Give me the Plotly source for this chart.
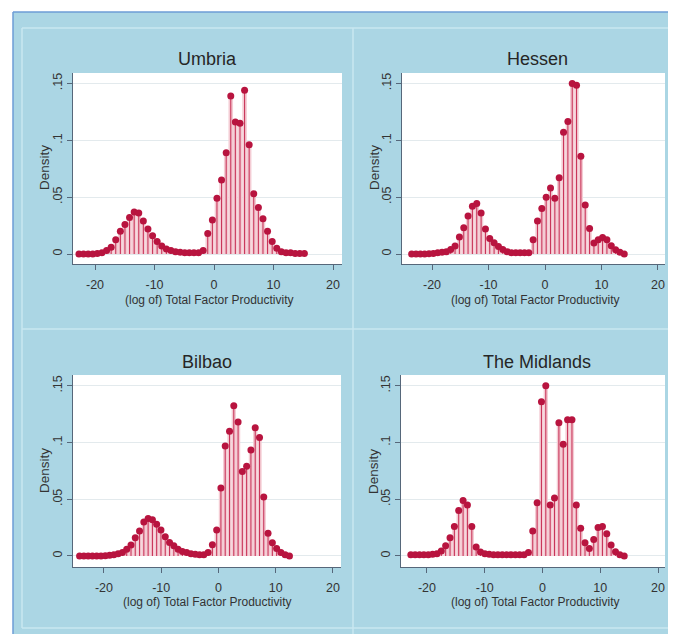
import plotly.graph_objects as go

# the page body has an 8px margin on every side: keep the figure inside the window
OFF = 8
W, H = 676 - 2 * OFF, 642 - 2 * OFF

# ---------------- data ----------------
panel_titles = ["Umbria", "Hessen", "Bilbao", "The Midlands"]
x_title = "(log of) Total Factor Productivity"
y_title = "Density"
x_tickvals = [-20, -10, 0, 10, 20]
x_ticktext = ["-20", "-10", "0", "10", "20"]
y_tickvals = [0, 0.05, 0.1, 0.15]
y_ticktext = ["0", ".05", ".1", ".15"]

umbria_x = [-22.70, -21.93, -21.15, -20.38, -19.61, -18.84, -18.06, -17.29, -16.52, -15.74,
            -14.97, -14.20, -13.42, -12.65, -11.88, -11.11, -10.33, -9.56, -8.79, -8.01,
            -7.24, -6.47, -5.69, -4.92, -4.15, -3.38, -2.60, -1.83, -1.06, -0.28,
            0.49, 1.26, 2.04, 2.81, 3.58, 4.36, 5.13, 5.90, 6.67, 7.45,
            8.22, 8.99, 9.77, 10.54, 11.31, 12.09, 12.86, 13.63, 14.40, 15.18]
umbria_y = [0.0, 0.0, 0.0, 0.0, 0.0005, 0.001, 0.003, 0.006, 0.0125, 0.020,
            0.026, 0.032, 0.037, 0.036, 0.029, 0.022, 0.016, 0.011, 0.007, 0.0045,
            0.003, 0.002, 0.0015, 0.001, 0.001, 0.001, 0.001, 0.003, 0.018, 0.030,
            0.049, 0.065, 0.089, 0.139, 0.116, 0.115, 0.144, 0.096, 0.053, 0.041,
            0.031, 0.020, 0.011, 0.005, 0.002, 0.001, 0.001, 0.0005, 0.0005, 0.0005]

hessen_x = [-23.60, -22.83, -22.06, -21.30, -20.53, -19.76, -18.99, -18.22, -17.46, -16.69,
            -15.92, -15.15, -14.38, -13.62, -12.85, -12.08, -11.31, -10.54, -9.78, -9.01,
            -8.24, -7.47, -6.70, -5.94, -5.17, -4.40, -3.63, -2.86, -2.10, -1.33,
            -0.56, 0.21, 0.98, 1.74, 2.51, 3.28, 4.05, 4.82, 5.58, 6.35,
            7.12, 7.89, 8.66, 9.42, 10.19, 10.96, 11.73, 12.50, 13.26, 14.03]
hessen_y = [0.0, 0.0, 0.0, 0.0, 0.0003, 0.0005, 0.001, 0.0015, 0.002, 0.004,
            0.007, 0.015, 0.023, 0.0335, 0.042, 0.0445, 0.036, 0.022, 0.0137, 0.010,
            0.0067, 0.004, 0.002, 0.001, 0.001, 0.001, 0.001, 0.001, 0.0125, 0.029,
            0.040, 0.050, 0.058, 0.049, 0.067, 0.107, 0.1165, 0.150, 0.1485, 0.086,
            0.043, 0.0224, 0.0096, 0.0125, 0.0146, 0.0125, 0.0073, 0.0038, 0.0015, 0.0]

bilbao_x = [-24.25, -23.50, -22.75, -22.01, -21.26, -20.51, -19.76, -19.01, -18.27, -17.52,
            -16.77, -16.02, -15.27, -14.53, -13.78, -13.03, -12.28, -11.53, -10.79, -10.04,
            -9.29, -8.54, -7.79, -7.05, -6.30, -5.55, -4.80, -4.05, -3.31, -2.56,
            -1.81, -1.06, -0.31, 0.43, 1.18, 1.93, 2.68, 3.43, 4.17, 4.92,
            5.67, 6.42, 7.17, 7.91, 8.66, 9.41, 10.16, 10.91, 11.65, 12.40]
bilbao_y = [0.0, 0.0, 0.0, 0.0, 0.0, 0.0, 0.0003, 0.0006, 0.001, 0.002,
            0.003, 0.006, 0.0096, 0.016, 0.022, 0.030, 0.033, 0.032, 0.028, 0.023,
            0.017, 0.012, 0.009, 0.006, 0.004, 0.003, 0.002, 0.0015, 0.001, 0.001,
            0.003, 0.010, 0.023, 0.060, 0.097, 0.110, 0.1325, 0.118, 0.0745, 0.079,
            0.0935, 0.113, 0.1045, 0.052, 0.020, 0.0116, 0.0067, 0.003, 0.001, 0.0]

midlands_x = [-22.80, -22.05, -21.29, -20.54, -19.78, -19.03, -18.28, -17.52, -16.77, -16.01,
              -15.26, -14.51, -13.75, -13.00, -12.24, -11.49, -10.74, -9.98, -9.23, -8.47,
              -7.72, -6.97, -6.21, -5.46, -4.70, -3.95, -3.20, -2.44, -1.69, -0.93,
              -0.18, 0.57, 1.33, 2.08, 2.84, 3.59, 4.34, 5.10, 5.85, 6.61,
              7.36, 8.11, 8.87, 9.62, 10.38, 11.13, 11.88, 12.64, 13.39, 14.15]
midlands_y = [0.001, 0.001, 0.001, 0.001, 0.001, 0.0015, 0.002, 0.0045, 0.009, 0.016,
              0.026, 0.040, 0.049, 0.045, 0.026, 0.008, 0.0035, 0.002, 0.0015, 0.001,
              0.001, 0.001, 0.001, 0.001, 0.001, 0.001, 0.001, 0.003, 0.022, 0.047,
              0.136, 0.150, 0.045, 0.051, 0.1175, 0.0985, 0.120, 0.120, 0.045, 0.0245,
              0.0116, 0.0067, 0.0145, 0.025, 0.026, 0.0195, 0.0096, 0.0038, 0.001, 0.0]

series = [(umbria_x, umbria_y), (hessen_x, hessen_y), (bilbao_x, bilbao_y), (midlands_x, midlands_y)]

# ---------------- layout geometry (window pixels) ----------------
# plot areas: (left, right, top, bottom)
areas = [(73, 342, 73, 264), (402, 665, 73, 264), (73, 341, 375, 567), (401, 665, 375, 567)]
x_ranges = [[-23.7, 21.5], [-25.31, 21.24], [-25.4, 21.4], [-24.5, 21.21]]
y_ranges = [[-0.0088, 0.1592], [-0.0088, 0.1592], [-0.0097, 0.1595], [-0.0097, 0.1595]]
title_pos = [(207.5, 59.5), (537, 59.5), (207.5, 362), (537, 362)]
xtitle_pos = [(210, 300), (535, 300), (207, 602), (535, 602)]
ytitle_pos = [(44, 168), (374, 168), (44, 471), (373, 471)]

FONT = "Liberation Sans, Arial, sans-serif"
BLUE_BG = "#abd6e4"
PANEL_LINE = "#c8e7f0"
FRAME = "#6d9dd6"
AXIS_COL = "#56677a"
TEXT_COL = "#2e2e2e"
PINK = "#f4ccd4"
DROP = "#c9355a"
DOT = "#b8143f"


def px(x):
    return (x - OFF) / W


def py(y):
    return 1 - (y - OFF) / H


fig = go.Figure()

for k, (xs, ys) in enumerate(series):
    xa = "x" if k == 0 else f"x{k+1}"
    ya = "y" if k == 0 else f"y{k+1}"
    step = xs[1] - xs[0]
    fig.add_trace(go.Bar(x=xs, y=ys, width=step, marker=dict(color=PINK, line=dict(width=0)),
                         xaxis=xa, yaxis=ya, showlegend=False, hoverinfo="skip"))
    fig.add_trace(go.Scatter(x=xs, y=ys, mode="markers",
                             marker=dict(color=DOT, size=7, line=dict(width=0)),
                             error_y=dict(type="data", symmetric=False, array=[0] * len(ys),
                                          arrayminus=ys, width=0, color=DROP, thickness=1.1),
                             xaxis=xa, yaxis=ya, showlegend=False))

layout = dict(
    width=W, height=H,
    margin=dict(l=0, r=0, t=0, b=0),
    paper_bgcolor="white",
    plot_bgcolor="white",
    barmode="overlay",
    font=dict(family=FONT, color=TEXT_COL, size=12),
    showlegend=False,
)

for k in range(4):
    l, r, t, b = areas[k]
    xkey = "xaxis" if k == 0 else f"xaxis{k+1}"
    ykey = "yaxis" if k == 0 else f"yaxis{k+1}"
    xname = "x" if k == 0 else f"x{k+1}"
    yname = "y" if k == 0 else f"y{k+1}"
    layout[xkey] = dict(domain=[px(l), px(r)], range=x_ranges[k], anchor=yname,
                        tickvals=x_tickvals, ticktext=x_ticktext,
                        showline=True, linecolor=AXIS_COL, linewidth=1,
                        ticks="outside", ticklen=5, tickwidth=1, tickcolor=AXIS_COL,
                        showgrid=False, zeroline=False, fixedrange=True,
                        tickfont=dict(size=12.5, color="#333333", family=FONT),
                        ticklabelstandoff=4)
    layout[ykey] = dict(domain=[py(b), py(t)], range=y_ranges[k], anchor=xname,
                        tickvals=y_tickvals, ticktext=y_ticktext, tickangle=-90,
                        showline=True, linecolor=AXIS_COL, linewidth=1,
                        ticks="outside", ticklen=5, tickwidth=1, tickcolor=AXIS_COL,
                        showgrid=True, gridcolor="#e3eaed", gridwidth=1,
                        zeroline=False, fixedrange=True,
                        tickfont=dict(size=12.5, color="#333333", family=FONT),
                        ticklabelstandoff=0)

shapes = []
# blue graph region
shapes.append(dict(type="rect", xref="paper", yref="paper", x0=px(13), x1=px(700),
                   y0=py(12), y1=py(670), fillcolor=BLUE_BG, line=dict(width=0), layer="below"))
# outer frame (left and top edges)
shapes.append(dict(type="line", xref="paper", yref="paper", x0=px(13), x1=px(13), y0=py(12), y1=py(660),
                   line=dict(color=FRAME, width=1.5), layer="below"))
shapes.append(dict(type="line", xref="paper", yref="paper", x0=px(13), x1=px(690), y0=py(12), y1=py(12),
                   line=dict(color=FRAME, width=1.5), layer="below"))
# panel separators
for (x0, y0, x1, y1) in [(22, 28, 22, 628), (353, 28, 353, 660),
                         (22, 28, 690, 28), (22, 329, 690, 329), (22, 628, 690, 628)]:
    shapes.append(dict(type="line", xref="paper", yref="paper", x0=px(x0), x1=px(x1),
                       y0=py(y0), y1=py(y1), line=dict(color=PANEL_LINE, width=1.5), layer="below"))
# white plot regions
for (l, r, t, b) in areas:
    shapes.append(dict(type="rect", xref="paper", yref="paper", x0=px(l), x1=px(r), y0=py(b), y1=py(t),
                       fillcolor="white", line=dict(width=0), layer="below"))
layout["shapes"] = shapes

annotations = []
for k in range(4):
    tx, ty = title_pos[k]
    annotations.append(dict(text=panel_titles[k], x=px(tx), y=py(ty), xref="paper", yref="paper",
                            showarrow=False, xanchor="center", yanchor="middle",
                            font=dict(size=18, color="#262626", family=FONT)))
    ax_, ay_ = xtitle_pos[k]
    annotations.append(dict(text=x_title, x=px(ax_), y=py(ay_), xref="paper", yref="paper",
                            showarrow=False, xanchor="center", yanchor="middle",
                            font=dict(size=12, color="#333333", family=FONT)))
    bx, by = ytitle_pos[k]
    annotations.append(dict(text=y_title, x=px(bx), y=py(by), xref="paper", yref="paper",
                            showarrow=False, xanchor="center", yanchor="middle", textangle=-90,
                            font=dict(size=13.5, color="#333333", family=FONT)))
layout["annotations"] = annotations

fig.update_layout(**layout)
fig.write_html("out.html")
